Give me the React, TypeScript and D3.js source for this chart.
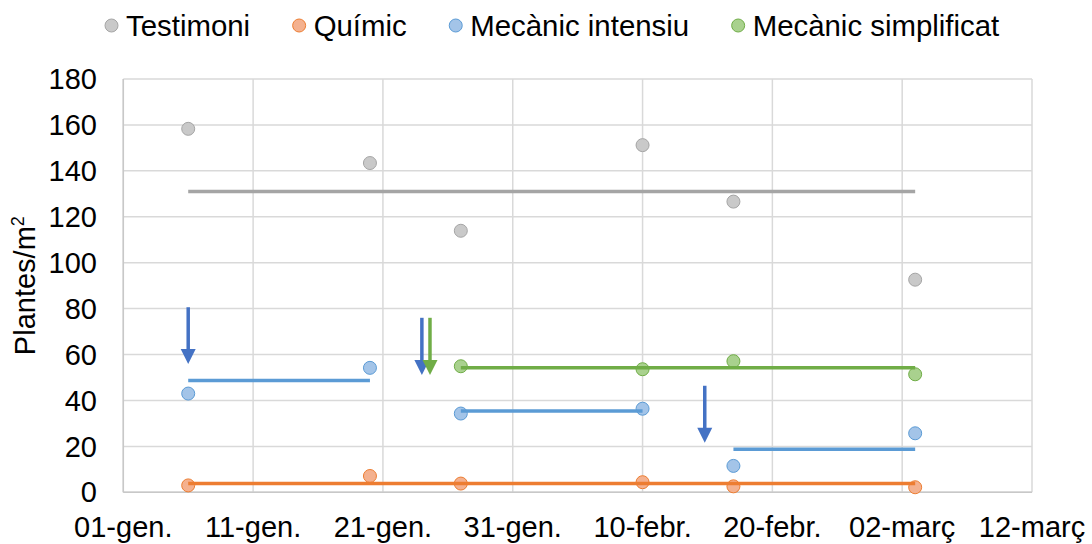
import React, { useEffect, useRef } from "react";
import * as d3 from "d3";

// Sampling dates and weed density (plants/m²) per treatment
const sampleDates = ["2019-01-06", "2019-01-20", "2019-01-27", "2019-02-10", "2019-02-17", "2019-03-03"];
const testimoni = [158.3, 143.4, 113.9, 151.2, 126.6, 92.6];
const quimic = [3.0, 7.1, 3.8, 4.4, 2.6, 2.2];
const mecanicIntensiu = [43.0, 54.2, 34.3, 36.4, 11.5, 25.7];
const mecanicSimplificat = [null, null, 54.9, 53.6, 57.1, 51.4];

// Average levels over each period
const testimoniMeans = [{ from: "2019-01-06", to: "2019-03-03", value: 131.0 }];
const quimicMeans = [{ from: "2019-01-06", to: "2019-03-03", value: 3.85 }];
const intensiuMeans = [
  { from: "2019-01-06", to: "2019-01-20", value: 48.7 },
  { from: "2019-01-27", to: "2019-02-10", value: 35.4 },
  { from: "2019-02-17", to: "2019-03-03", value: 18.7 },
];
const simplificatMeans = [{ from: "2019-01-27", to: "2019-03-03", value: 54.2 }];

// Treatment interventions (arrows): date and the value range they span
const interventions = [
  { date: "2019-01-06T00:00", top: 80.6, tip: 55.9, series: "intensiu" },
  { date: "2019-01-24T00:00", top: 76.0, tip: 51.1, series: "intensiu" },
  { date: "2019-01-24T15:00", top: 76.0, tip: 51.1, series: "simplificat" },
  { date: "2019-02-14T19:00", top: 46.4, tip: 21.6, series: "intensiu" },
];

const xTickDates = ["2019-01-01", "2019-01-11", "2019-01-21", "2019-01-31", "2019-02-10", "2019-02-20", "2019-03-02", "2019-03-12"];
const xTickLabels = ["01-gen.", "11-gen.", "21-gen.", "31-gen.", "10-febr.", "20-febr.", "02-març", "12-març"];
const yTicks = [0, 20, 40, 60, 80, 100, 120, 140, 160, 180];

const seriesNames = ["Testimoni", "Químic", "Mecànic intensiu", "Mecànic simplificat"];

const FONT = "'Liberation Sans', Arial, sans-serif";
const FONT_SIZE = 29;
const LEGEND_FONT_SIZE = 29.4;

export default function App() {
  const ref = useRef<SVGSVGElement>(null);

  useEffect(() => {
    const svg = d3.select(ref.current);
    svg.selectAll("*").remove();

    const parseDay = d3.timeParse("%Y-%m-%d");
    const parseTime = d3.timeParse("%Y-%m-%dT%H:%M");

    const x = d3
      .scaleTime()
      .domain([parseDay(xTickDates[0])!, parseDay(xTickDates[xTickDates.length - 1])!])
      .range([123.3, 1032]);
    const y = d3.scaleLinear().domain([0, 180]).range([492.3, 79]);

    const styles = {
      testimoni: { fill: "#c9c9c9", stroke: "#a5a5a5", line: "#a5a5a5" },
      quimic: { fill: "#f4b18f", stroke: "#ed7d31", line: "#ed7d31" },
      intensiu: { fill: "#a3c4e8", stroke: "#5b9bd5", line: "#5b9bd5" },
      simplificat: { fill: "#a9d18e", stroke: "#70ad47", line: "#70ad47" },
    };
    const arrowColors: Record<string, string> = { intensiu: "#4472c4", simplificat: "#70ad47" };

    // Grid
    const grid = svg.append("g");
    grid
      .selectAll("line.h")
      .data(yTicks)
      .join("line")
      .attr("x1", x.range()[0])
      .attr("x2", x.range()[1])
      .attr("y1", (d) => y(d))
      .attr("y2", (d) => y(d))
      .attr("stroke", "#d9d9d9")
      .attr("stroke-width", 1.5);
    grid
      .selectAll("line.v")
      .data(xTickDates)
      .join("line")
      .attr("x1", (d) => x(parseDay(d)!))
      .attr("x2", (d) => x(parseDay(d)!))
      .attr("y1", y(0))
      .attr("y2", y(180))
      .attr("stroke", "#d9d9d9")
      .attr("stroke-width", 1.5);
    // Axis lines
    svg
      .append("line")
      .attr("x1", x.range()[0])
      .attr("x2", x.range()[1])
      .attr("y1", y(0))
      .attr("y2", y(0))
      .attr("stroke", "#c8c8c8")
      .attr("stroke-width", 1.5);
    svg
      .append("line")
      .attr("x1", x.range()[0])
      .attr("x2", x.range()[0])
      .attr("y1", y(0))
      .attr("y2", y(180))
      .attr("stroke", "#c8c8c8")
      .attr("stroke-width", 1.5);

    // Tick labels
    svg
      .append("g")
      .selectAll("text")
      .data(yTicks)
      .join("text")
      .attr("x", 97)
      .attr("y", (d) => y(d))
      .attr("dy", "0.35em")
      .attr("text-anchor", "end")
      .attr("font-family", FONT)
      .attr("font-size", FONT_SIZE)
      .attr("fill", "#000")
      .text((d) => d);

    svg
      .append("g")
      .selectAll("text")
      .data(xTickDates)
      .join("text")
      .attr("x", (d) => x(parseDay(d)!))
      .attr("y", 537)
      .attr("text-anchor", "middle")
      .attr("font-family", FONT)
      .attr("font-size", FONT_SIZE)
      .attr("fill", "#000")
      .text((_, i) => xTickLabels[i]);

    // Y axis title
    const yTitle = svg
      .append("text")
      .attr("transform", `translate(35,${(y(0) + y(180)) / 2}) rotate(-90)`)
      .attr("text-anchor", "middle")
      .attr("font-family", FONT)
      .attr("font-size", FONT_SIZE)
      .attr("fill", "#000");
    yTitle.append("tspan").text("Plantes/m");
    yTitle.append("tspan").attr("font-size", 18).attr("dy", -11).text("2");

    // Markers
    const allSeries = [
      { key: "testimoni", values: testimoni },
      { key: "quimic", values: quimic },
      { key: "intensiu", values: mecanicIntensiu },
      { key: "simplificat", values: mecanicSimplificat },
    ];
    const marks = svg.append("g");
    allSeries.forEach((s) => {
      const st = (styles as any)[s.key];
      const pts = sampleDates
        .map((d, i) => ({ date: parseDay(d)!, value: s.values[i] }))
        .filter((p) => p.value != null);
      marks
        .append("g")
        .selectAll("circle")
        .data(pts)
        .join("circle")
        .attr("cx", (p) => x(p.date))
        .attr("cy", (p) => y(p.value as number))
        .attr("r", 6.5)
        .attr("fill", st.fill)
        .attr("stroke", st.stroke)
        .attr("stroke-width", 1);
    });

    // Mean level segments
    const meanSets = [
      { key: "testimoni", segs: testimoniMeans },
      { key: "quimic", segs: quimicMeans },
      { key: "intensiu", segs: intensiuMeans },
      { key: "simplificat", segs: simplificatMeans },
    ];
    const lineGen = d3
      .line<{ d: Date; v: number }>()
      .x((p) => x(p.d))
      .y((p) => y(p.v));
    meanSets.forEach((m) => {
      const st = (styles as any)[m.key];
      m.segs.forEach((seg) => {
        svg
          .append("path")
          .attr(
            "d",
            lineGen([
              { d: parseDay(seg.from)!, v: seg.value },
              { d: parseDay(seg.to)!, v: seg.value },
            ])
          )
          .attr("stroke", st.line)
          .attr("stroke-width", 3.5)
          .attr("fill", "none");
      });
    });

    // Intervention arrows
    const headLen = 15;
    const headHalf = 7.5;
    interventions.forEach((a) => {
      const cx = x(parseTime(a.date)!);
      const yTop = y(a.top);
      const yTip = y(a.tip);
      const col = arrowColors[a.series];
      svg
        .append("line")
        .attr("x1", cx)
        .attr("x2", cx)
        .attr("y1", yTop)
        .attr("y2", yTip - headLen + 1)
        .attr("stroke", col)
        .attr("stroke-width", 3.5);
      svg
        .append("path")
        .attr("d", `M${cx - headHalf},${yTip - headLen} L${cx + headHalf},${yTip - headLen} L${cx},${yTip} Z`)
        .attr("fill", col);
    });

    // Legend
    const legend = svg.append("g");
    const legendKeys = ["testimoni", "quimic", "intensiu", "simplificat"];
    let lx = 111.5;
    seriesNames.forEach((name, i) => {
      const st = (styles as any)[legendKeys[i]];
      legend
        .append("circle")
        .attr("cx", lx)
        .attr("cy", 25.5)
        .attr("r", 6.5)
        .attr("fill", st.fill)
        .attr("stroke", st.stroke)
        .attr("stroke-width", 1);
      const t = legend
        .append("text")
        .attr("x", lx + 14.5)
        .attr("y", 36)
        .attr("font-family", FONT)
        .attr("font-size", LEGEND_FONT_SIZE)
        .attr("fill", "#000")
        .text(name);
      const w = (t.node() as SVGTextElement).getComputedTextLength();
      lx = lx + 14.5 + w + 49;
    });
  }, []);

  return (
    <div style={{ position: "absolute", left: 0, top: 0 }}>
      <svg ref={ref} width={1092} height={544} style={{ display: "block", background: "#fff" }} />
    </div>
  );
}
